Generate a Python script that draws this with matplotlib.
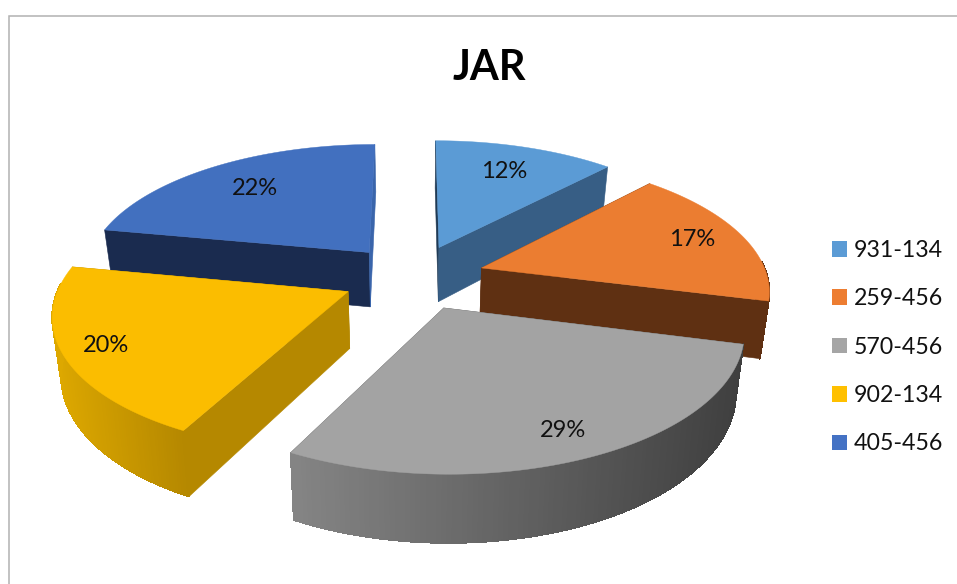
import numpy as np
import matplotlib
matplotlib.use("Agg")
import matplotlib.pyplot as plt
from matplotlib.patches import Patch, Polygon
from matplotlib.colors import to_rgb
from matplotlib.collections import PolyCollection, LineCollection

categories = ["931-134", "259-456", "570-456", "902-134", "405-456"]
shares = [12, 17, 28.6, 20.4, 22]
title = "JAR"

top_colors = ["#5B9BD5", "#ED7D31", "#A5A5A5", "#FFC000", "#4472C4"]
top_fill = ["#5B9BD5", "#EB7D31", "#A3A3A3", "#FBBD00", "#4270BF"]
cut_start = ["#1F3A55", "#5F3012", "#5A5A5A", "#B58800", "#1A2B4F"]
cut_end = ["#375E85", "#5F3012", "#5A5A5A", "#B58800", "#3A65AB"]
wall_left = ["#375E85", "#5F3012", "#858585", "#DDA800", "#1A2B4F"]
wall_right = ["#375E85", "#5F3012", "#3F3F3F", "#B58800", "#1A2B4F"]
paint_order = [4, 0, 1, 3, 2]
label_radius = [0.98, 1.06, 1.09, 1.11, 0.97]

# view parameters
CX, CY, RX, RY, P, DEPTH, SHRINK, EXPLODE = 413.5, 277, 286, 131, 0.15, 56, 0.975, 0.25

def project(x, y, bottom=False):
    x, y = np.asarray(x, float), np.asarray(y, float)
    w = 1 + P * y
    sx = RX * x / w
    sy = CY - RY * y / w
    if bottom:
        sx = sx * SHRINK
        sy = sy + DEPTH / w
    return np.column_stack([CX + sx, sy])

fig = plt.figure(figsize=(9.57, 5.84), dpi=100)
ax = fig.add_axes([0, 0, 1, 1])
ax.set_xlim(0, 957)
ax.set_ylim(584, 0)
ax.axis("off")

ax.plot([8.5, 8.5, 957], [584, 15.5, 15.5], color="#B2B2B2", lw=1.1, solid_joinstyle="miter")

fractions = np.array(shares, float) / sum(shares)
edges = np.concatenate([[0], np.cumsum(fractions)]) * 2 * np.pi

for order, i in enumerate(paint_order):
    z = 2 + order
    a0, a1 = edges[i], edges[i + 1]
    mid = (a0 + a1) / 2
    ax0, ay0 = EXPLODE * np.sin(mid), EXPLODE * np.cos(mid)
    t = np.linspace(a0, a1, 120)
    xs, ys = ax0 + np.sin(t), ay0 + np.cos(t)

    for (ex, ey, col) in ((xs[0], ys[0], cut_start[i]), (xs[-1], ys[-1], cut_end[i])):
        line_x = np.linspace(ax0, ex, 30)
        line_y = np.linspace(ay0, ey, 30)
        face = np.vstack([project(line_x, line_y), project(line_x, line_y, True)[::-1]])
        ax.add_patch(Polygon(face, closed=True, fc=col, ec=col, lw=0.4, zorder=z))

    top = project(xs, ys)
    bot = project(xs, ys, True)
    left, right = np.array(to_rgb(wall_left[i])), np.array(to_rgb(wall_right[i]))
    sxm = top[:, 0]
    lo, hi = sxm.min(), sxm.max()
    front = [k for k in range(len(t) - 1) if np.cos(t[k]) < 0.05]
    if front:
        quads = [np.array([top[k], top[k + 1], bot[k + 1], bot[k]]) for k in front]
        cols = [left + (right - left) * ((sxm[k] - lo) / max(hi - lo, 1)) for k in front]
        ax.add_collection(PolyCollection(quads, facecolors=cols, edgecolors=cols, linewidths=0.6,
                                         antialiaseds=False, zorder=z + 0.1))
        segs = [bot[k:k + 2] for k in front]
        ax.add_collection(LineCollection(segs, colors=cols, linewidths=0.7, zorder=z + 0.1))

    outline = np.vstack([project([ax0], [ay0]), top])
    ax.add_patch(Polygon(outline, closed=True, fc=top_fill[i], ec=top_fill[i], lw=0.3, zorder=z + 0.2))

    r = label_radius[i]
    pos = project([r * np.sin(mid)], [r * np.cos(mid)])[0]
    ax.text(pos[0], pos[1], f"{round(shares[i])}%", ha="center", va="center", fontsize=17,
            family="Lato", color="#111111", zorder=20)

ax.text(489, 68, title, ha="center", va="center", fontsize=30, fontweight="bold",
        family="Lato", color="black")

handles = [Patch(fc=c, ec="none") for c in top_colors]
ax.legend(handles, categories, loc="upper left", bbox_to_anchor=(832 / 957, 1 - 240 / 584),
          frameon=False, prop={"family": "Lato", "size": 16.7}, borderpad=0, borderaxespad=0,
          handlelength=0.65, handleheight=0.65, handletextpad=0.3, labelspacing=1.18,
          labelcolor="#111111")

fig.savefig("out.png", dpi=100)
